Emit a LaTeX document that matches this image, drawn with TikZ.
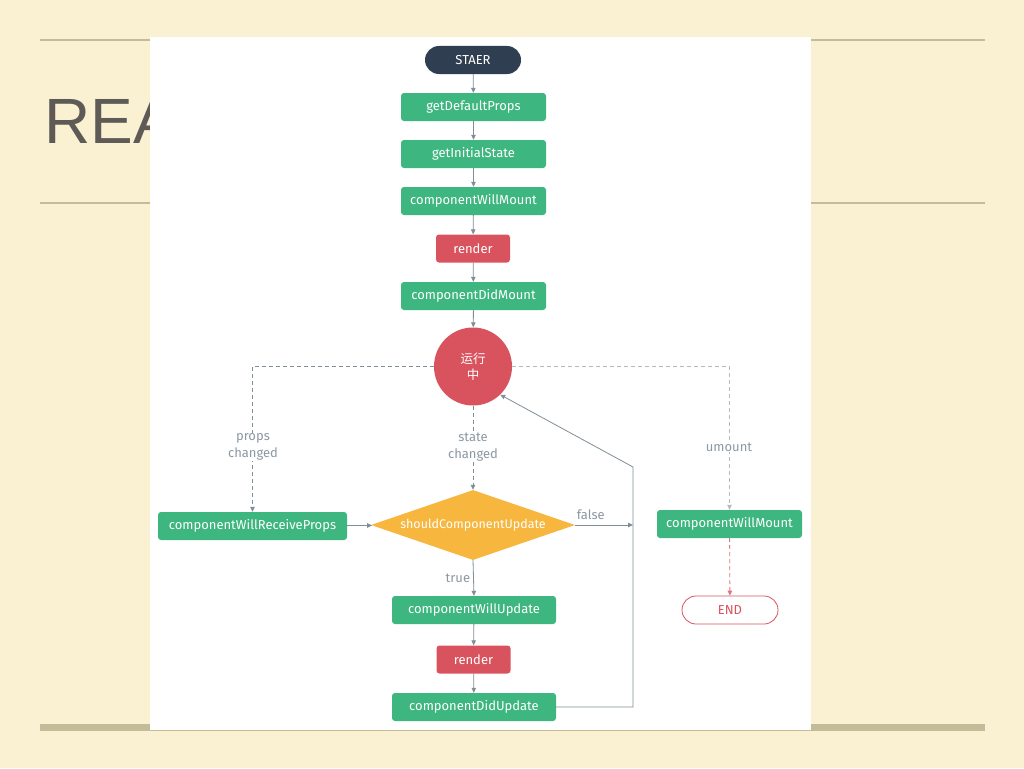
\documentclass[tikz,border=0pt]{standalone}
\usepackage{fontspec}
\setmainfont{Fira Sans}
\newfontfamily\cjk{Noto Sans CJK SC}
\newfontfamily\titlefont{Liberation Sans}
\usetikzlibrary{positioning,arrows.meta,shapes.geometric}
\definecolor{slidebg}{RGB}{250,241,211}
\definecolor{slideline}{RGB}{196,187,152}
\definecolor{titlegray}{RGB}{94,90,85}
\definecolor{rgreen}{RGB}{62,182,128}
\definecolor{rred}{RGB}{217,83,94}
\definecolor{rorange}{RGB}{247,182,62}
\definecolor{rnavy}{RGB}{47,62,80}
\definecolor{rline}{RGB}{128,142,152}
\definecolor{rlabel}{RGB}{140,152,162}

\begin{document}
\begin{tikzpicture}[x=1pt,y=-1pt,
  boxfont/.style={font=\fontsize{13}{15}\selectfont},
  greenbox/.style={rectangle,rounded corners=3pt,fill=rgreen,text=white,
    minimum height=28pt,inner sep=0pt,boxfont},
  redbox/.style={greenbox,fill=rred},
  pill/.style={rectangle,rounded corners=14pt,minimum height=28pt,
    minimum width=96pt,inner sep=0pt,boxfont},
  lbl/.style={text=rlabel,fill=white,align=center,inner sep=1pt,
    font=\fontsize{13}{17}\selectfont},
  line/.style={draw=rline,line width=0.8pt},
  dline/.style={line,dashed,dash pattern=on 4pt off 3pt},
  tip/.style={-{Triangle[length=5pt,width=4.5pt]}}]
\useasboundingbox (0,0) rectangle (1024,768);

% Slide
\fill[slidebg] (0,0) rectangle (1024,768);
\draw[slideline,line width=2pt] (40,40) -- (985,40);
\draw[slideline,line width=2pt] (40,203) -- (985,203);
\fill[slideline] (40,724) rectangle (985,731);
\node[anchor=base west,inner sep=0pt,text=titlegray,
  font=\titlefont\fontsize{64}{70}\selectfont] (title) at (44,143) {REA};
\fill[white] (150,37) rectangle (811,730);

% Mounting
\node[pill,fill=rnavy,text=white] (start) at (473,60) {STAER};
\node[greenbox,minimum width=145pt] (gdp) at (473.5,107) {getDefaultProps};
\node[greenbox,minimum width=145pt] (gis) at (473.5,154) {getInitialState};
\node[greenbox,minimum width=145pt] (cwm) at (473.5,201) {componentWillMount};
\node[redbox,minimum width=74pt] (render) at (473,248.5) {render};
\node[greenbox,minimum width=145pt] (cdm) at (473.5,296) {componentDidMount};
\node[circle,fill=rred,text=white,minimum size=78pt,inner sep=0pt,
  align=center,font=\cjk\fontsize{12.5}{16}\selectfont] (run) at (473,366.5) {运行\\中};

% Updating
\node[greenbox,minimum width=189pt] (cwrp) at (252.5,526) {componentWillReceiveProps};
\node[diamond,fill=rorange,text=white,minimum width=204pt,minimum height=70pt,
  aspect=2.9,inner sep=0pt,font=\fontsize{12.5}{15}\selectfont] (scu) at (473,525) {shouldComponentUpdate};
\node[greenbox,minimum width=164pt] (cwu) at (474,610) {componentWillUpdate};
\node[redbox,minimum width=74pt] (render2) at (473.5,659.5) {render};
\node[greenbox,minimum width=164pt] (cdu) at (474,707) {componentDidUpdate};
\coordinate (loop) at (633,467);

% Unmounting
\node[greenbox,minimum width=145pt] (cwun) at (729.5,524) {componentWillMount};
\node[pill,draw=rred,line width=0.8pt,fill=white,text=rred] (end) at (730,610) {END};

% Main path
\draw[line,tip] (start) -- (gdp);
\draw[line,tip] (gdp) -- (gis);
\draw[line,tip] (gis) -- (cwm);
\draw[line,tip] (cwm) -- (render);
\draw[line,tip] (render) -- (cdm);
\draw[line,tip] (cdm) -- (run);

% Branches
\draw[dline,tip] (run.west) -| (cwrp.north);
\draw[dline,tip] (run.south) -- (scu.north);
\draw[dline,draw=rline!60,tip] (run.east) -| (cwun.north);
\draw[line,tip] (cwrp) -- (scu);
\draw[line,tip] (scu.east) -- (scu.east -| loop) node[pos=0.27,above=4pt,lbl,fill=none] {false};
\draw[line,tip] (scu.south) -- (cwu.north) node[midway,left=2pt,lbl,fill=none] {true};
\draw[line,tip] (cwu) -- (render2);
\draw[line,tip] (render2) -- (cdu);
\draw[line,tip] (cdu.east) -| (loop) -- (run.-46);
\draw[dline,draw=rred!80,tip] (cwun) -- (end);

% Labels
\node[lbl] (lprops) at (253,447) {props\\changed};
\node[lbl] (lstate) at (473,447) {state\\changed};
\node[lbl] (lumount) at (729,447) {umount};
\end{tikzpicture}
\end{document}
